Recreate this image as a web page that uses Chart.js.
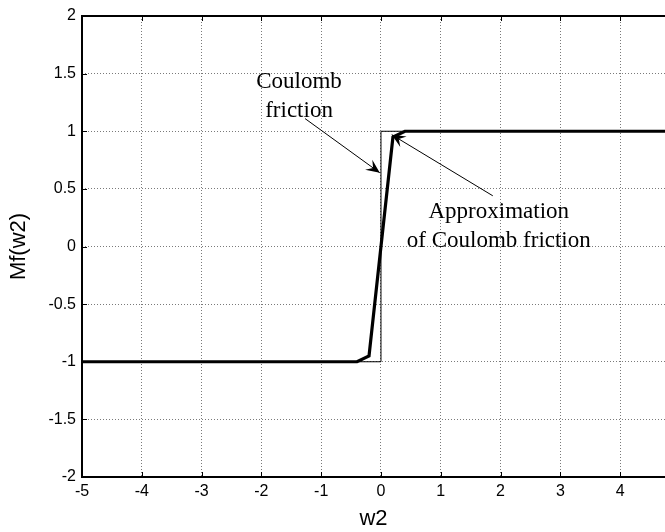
<!DOCTYPE html>
<html>
<head>
  <meta charset="UTF-8">
  <title>Coulomb friction</title>
  <script src="https://cdn.jsdelivr.net/npm/chart.js"></script>
  <style>
    body { margin: 0; background: #fff; }
    #wrap { width: 665px; height: 532px; }
  </style>
</head>
<body>
  <div id="wrap"><canvas id="grafico" width="665" height="532"></canvas></div>
  <script>
    // ideal Coulomb friction (thin)
    const coulombX = [-5, 0, 0, 4.75];
    const coulombY = [-1, -1, 1, 1];
    // approximation (thick)
    const approxX = [-5, -0.4, -0.2, 0.2, 0.4, 4.75];
    const approxY = [-1, -1, -0.95, 0.95, 1, 1];

    const xTicks = [-5, -4, -3, -2, -1, 0, 1, 2, 3, 4];
    const yTicks = [-2, -1.5, -1, -0.5, 0, 0.5, 1, 1.5, 2];

    // text notes (baseline of first line) and arrows, in data units
    const notes = [
      { lines: ['Coulomb', 'friction'], x: -1.37, y: 1.375, arrowFrom: [-1.27, 1.11], arrowTo: [-0.02, 0.64] },
      { lines: ['Approximation', 'of Coulomb friction'], x: 1.97, y: 0.247, arrowFrom: [1.87, 0.44], arrowTo: [0.18, 0.97] }
    ];

    const toPts = (xs, ys) => xs.map((x, i) => ({ x: x, y: ys[i] }));

    function flecha(ctx, x1, y1, x2, y2) {
      const ang = Math.atan2(y2 - y1, x2 - x1);
      ctx.beginPath();
      ctx.moveTo(x1, y1);
      ctx.lineTo(x2, y2);
      ctx.lineWidth = 1;
      ctx.strokeStyle = '#000';
      ctx.stroke();
      const L = 15, W = 0.42;
      ctx.beginPath();
      ctx.moveTo(x2, y2);
      ctx.lineTo(x2 - L * Math.cos(ang - W), y2 - L * Math.sin(ang - W));
      ctx.lineTo(x2 - 0.55 * L * Math.cos(ang), y2 - 0.55 * L * Math.sin(ang));
      ctx.lineTo(x2 - L * Math.cos(ang + W), y2 - L * Math.sin(ang + W));
      ctx.closePath();
      ctx.fillStyle = '#000';
      ctx.fill();
    }

    const notasPlugin = {
      id: 'notas',
      afterDatasetsDraw(chart) {
        const ctx = chart.ctx, xs = chart.scales.x, ys = chart.scales.y, a = chart.chartArea;
        ctx.save();
        // axes box (left, bottom, top)
        ctx.lineWidth = 2;
        ctx.strokeStyle = '#000';
        ctx.beginPath();
        ctx.moveTo(a.right, a.top);
        ctx.lineTo(a.left, a.top);
        ctx.lineTo(a.left, a.bottom);
        ctx.lineTo(a.right, a.bottom);
        ctx.stroke();
        // inward tick marks
        ctx.lineWidth = 1;
        xTicks.forEach(v => {
          const px = Math.round(xs.getPixelForValue(v)) + 0.5;
          ctx.beginPath();
          ctx.moveTo(px, a.bottom); ctx.lineTo(px, a.bottom - 5);
          ctx.moveTo(px, a.top); ctx.lineTo(px, a.top + 5);
          ctx.stroke();
        });
        yTicks.forEach(v => {
          const py = Math.round(ys.getPixelForValue(v)) + 0.5;
          ctx.beginPath();
          ctx.moveTo(a.left, py); ctx.lineTo(a.left + 5, py);
          ctx.stroke();
        });
        // notes
        ctx.font = '23px "Liberation Serif", "Times New Roman", serif';
        ctx.fillStyle = '#000';
        ctx.textAlign = 'center';
        ctx.textBaseline = 'alphabetic';
        notes.forEach(n => {
          const px = xs.getPixelForValue(n.x), py = ys.getPixelForValue(n.y);
          n.lines.forEach((t, i) => ctx.fillText(t, px, py + i * 29));
          flecha(ctx, xs.getPixelForValue(n.arrowFrom[0]), ys.getPixelForValue(n.arrowFrom[1]),
                 xs.getPixelForValue(n.arrowTo[0]), ys.getPixelForValue(n.arrowTo[1]));
        });
        ctx.restore();
      }
    };

    const fuente = { family: '"Liberation Sans", Arial, sans-serif', size: 16 };
    const titulo = { family: '"Liberation Sans", Arial, sans-serif', size: 22 };
    const etiqueta = v => String(v);

    new Chart(document.getElementById('grafico').getContext('2d'), {
      type: 'scatter',
      data: {
        datasets: [
          { label: 'Coulomb', data: toPts(coulombX, coulombY), showLine: true, borderColor: '#000',
            borderWidth: 1, pointRadius: 0, tension: 0 },
          { label: 'Approx', data: toPts(approxX, approxY), showLine: true, borderColor: '#000',
            borderWidth: 3.2, pointRadius: 0, tension: 0, borderJoinStyle: 'miter' }
        ]
      },
      options: {
        responsive: false,
        animation: false,
        layout: { padding: { top: 16, right: 0, left: 0, bottom: 0 } },
        plugins: { legend: { display: false }, tooltip: { enabled: false } },
        scales: {
          x: {
            type: 'linear', min: -5, max: 4.75,
            afterBuildTicks: s => { s.ticks = xTicks.map(v => ({ value: v })); },
            afterFit: s => { s.height = 55; },
            grid: { color: '#7a7a7a', drawTicks: false, lineWidth: 1 },
            border: { display: false, dash: [1, 2] },
            ticks: { color: '#000', font: fuente, padding: 5, maxRotation: 0, callback: etiqueta },
            title: { display: true, text: 'w2', color: '#000', font: titulo, padding: { top: 0, bottom: 0 } }
          },
          y: {
            type: 'linear', min: -2, max: 2,
            afterBuildTicks: s => { s.ticks = yTicks.map(v => ({ value: v })); },
            afterFit: s => { s.width = 82; },
            grid: { color: '#7a7a7a', drawTicks: false, lineWidth: 1 },
            border: { display: false, dash: [1, 2] },
            ticks: { color: '#000', font: fuente, padding: 6, callback: etiqueta },
            title: { display: true, text: 'Mf(w2)', color: '#000', font: titulo, padding: { top: 6, bottom: 0 } }
          }
        }
      },
      plugins: [notasPlugin]
    });
  </script>
</body>
</html>
